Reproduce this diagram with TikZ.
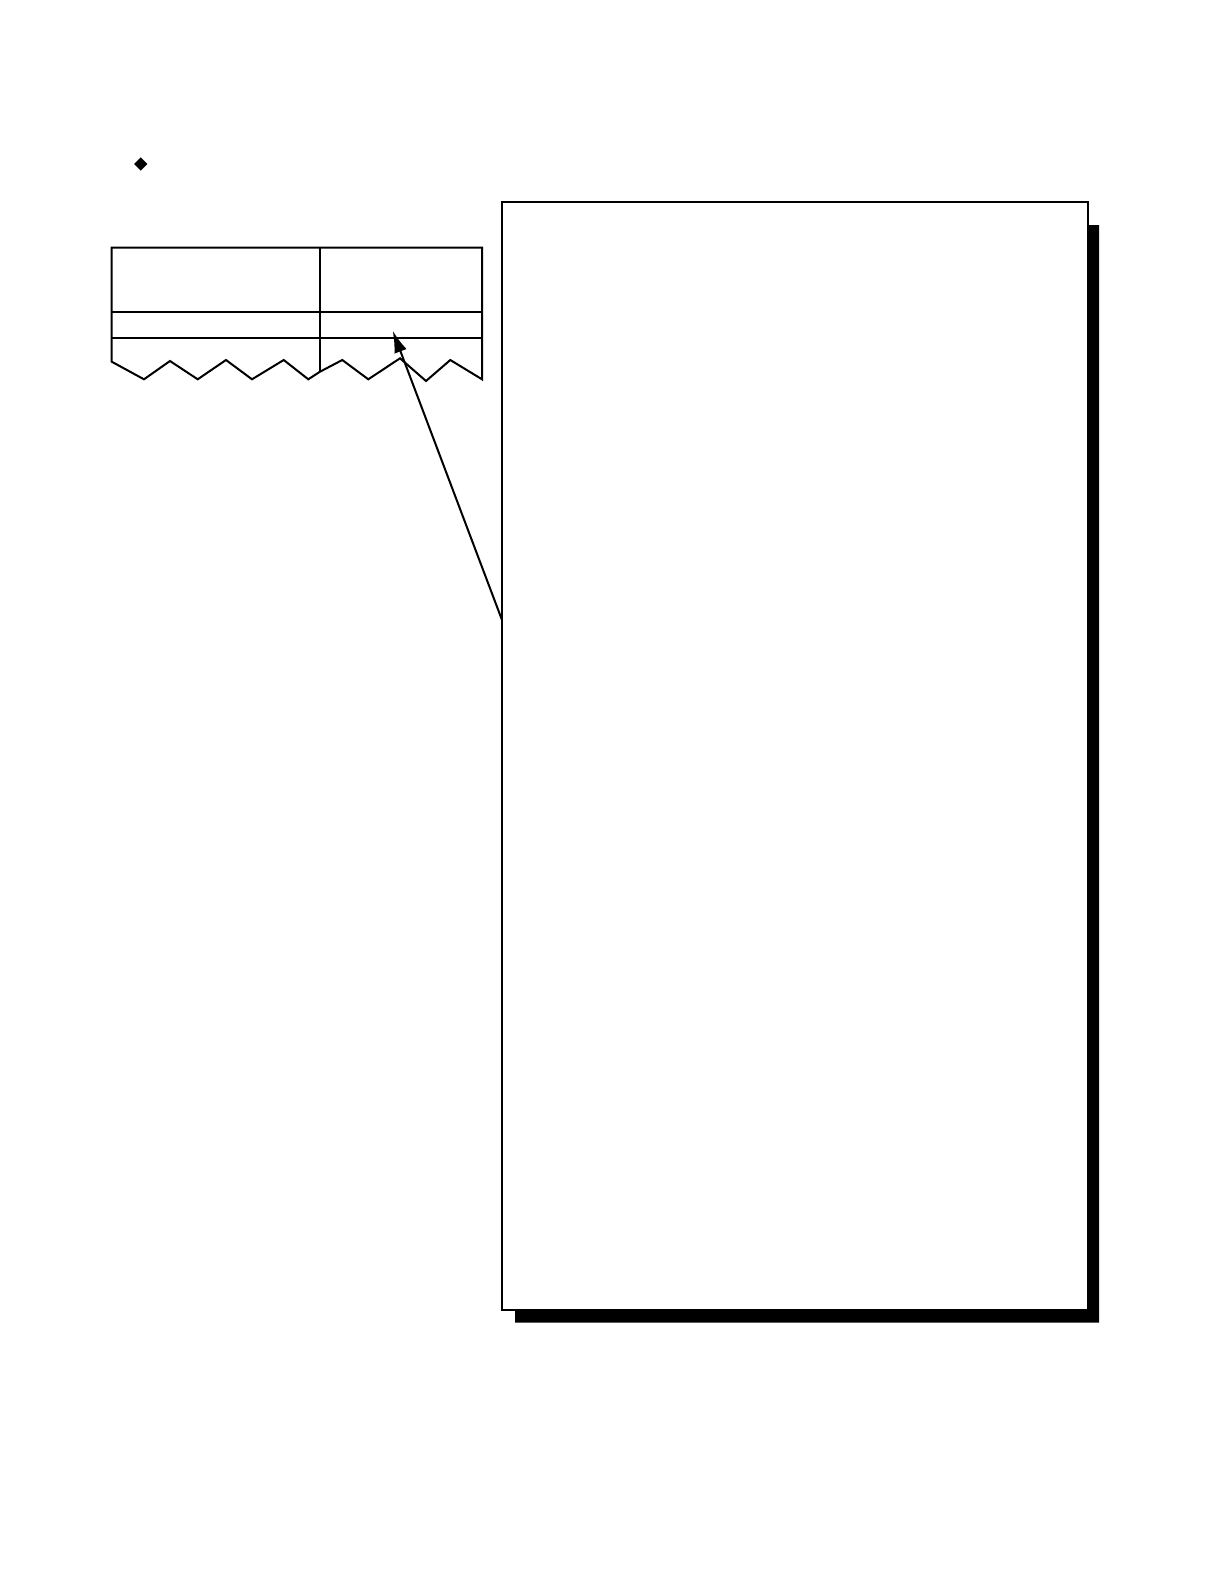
\documentclass[tikz,border=0pt]{standalone}
\usetikzlibrary{arrows.meta}
\begin{document}
\begin{tikzpicture}[x=0.5pt,y=-0.5pt,line join=miter,
  thin line/.style={line width=1pt},
  boxstyle/.style={draw,line width=1pt,fill=white,minimum width=293pt,minimum height=554pt,inner sep=0pt,outer sep=0pt}]
\useasboundingbox (0,0) rectangle (1224,1584);
% bullet diamond
\fill (140.7,157.3) -- (147.4,164) -- (140.7,170.7) -- (134,164) -- cycle;
% torn table
\draw[thin line] (111.7,361.7) -- (111.7,247.7) -- (482,247.7) -- (482,379.3)
  -- (450.3,360) -- (426,381) -- (400,358.3) -- (368.3,379.3) -- (342.3,360)
  -- (320,371.7) -- (308.3,379.3) -- (283.7,360) -- (252,379.3) -- (226,360)
  -- (197.7,379.3) -- (170,361) -- (144,379.3) -- cycle;
\draw[thin line] (111.7,312) -- (482,312);
\draw[thin line] (111.7,337.7) -- (482,337.7);
\draw[thin line] (320,247.7) -- (320,371.7);
% shadow
\fill (1088,225) -- (1099,225) -- (1099,1322.7) -- (515,1322.7) -- (515,1309) -- (1088,1309) -- cycle;
% main box
\node[boxstyle] (mainbox) at (795,756) {};
\coordinate (tail) at (502,620);
\coordinate (tip) at (392.7,330.7);
\draw[thin line,-{Latex[length=11pt,width=6.5pt]}] (tail) -- (tip);
\end{tikzpicture}
\end{document}
